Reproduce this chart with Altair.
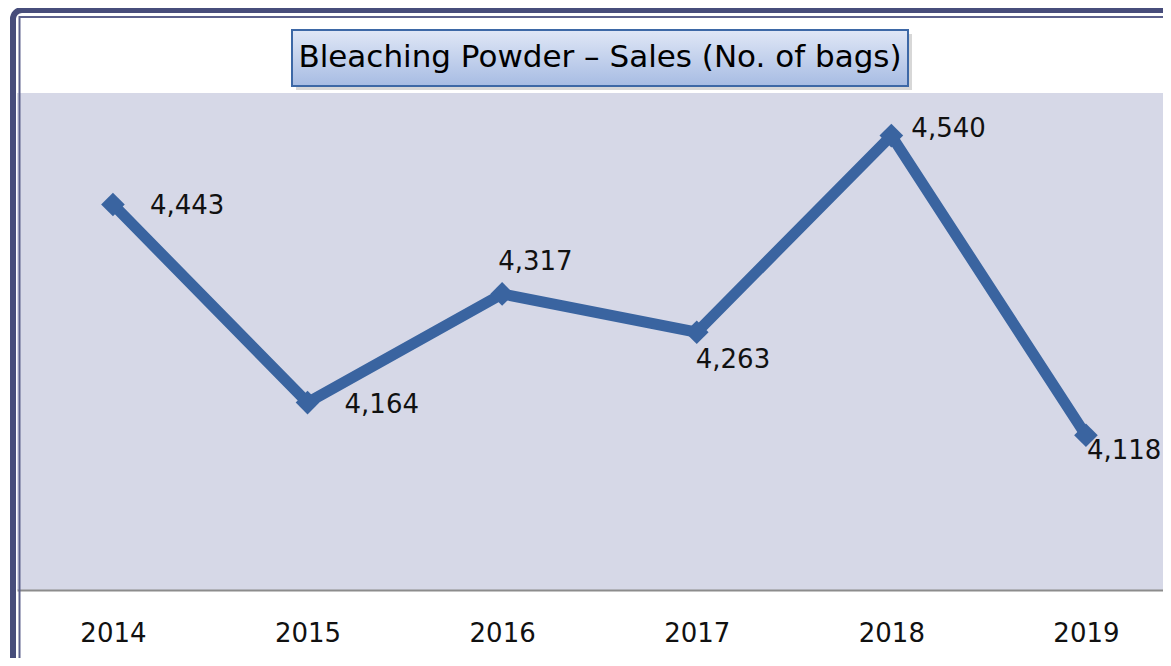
import altair as alt
import pandas as pd

# ---- data ----
years = [2014, 2015, 2016, 2017, 2018, 2019]
sales = [4443, 4164, 4317, 4263, 4540, 4118]
title_text = "Bleaching Powder \u2013 Sales (No. of bags)"

BLUE = "#3a64a0"
FONT = "DejaVu Sans"

df = pd.DataFrame({"year": years, "sales": sales})

x = alt.X(
    "year:Q",
    scale=alt.Scale(domain=[2013.507, 2019.396], nice=False, zero=False),
    axis=alt.Axis(
        values=years, format="d", title=None, ticks=False, grid=False,
        labelFontSize=26, labelFont=FONT, labelColor="#111111",
        labelPadding=30, labelBaseline="top", labelFlush=False, labelOverlap=False,
        domainColor="#8c8c8c", domainWidth=2,
    ),
)
y = alt.Y("sales:Q", scale=alt.Scale(domain=[3900, 4600], nice=False, zero=False), axis=None)

base = alt.Chart(df)

line = base.mark_line(color=BLUE, strokeWidth=11, strokeJoin="miter").encode(x=x, y=y)
pts = base.mark_point(shape="diamond", filled=True, size=560, color=BLUE, opacity=1).encode(x=x, y=y)


def labels(yrs, dx, dy):
    return (
        base.transform_filter(alt.FieldOneOfPredicate(field="year", oneOf=yrs))
        .mark_text(dx=dx, dy=dy, align="left", baseline="middle",
                   fontSize=26, font=FONT, color="#111111")
        .encode(x=x, y=y, text=alt.Text("sales:Q", format=","))
    )


lab_layers = [
    labels([2014, 2015], 37, 2),
    labels([2016], -4, -32),
    labels([2017], -1, 28),
    labels([2018], 20, -7),
    labels([2019], 1, 16),
]

# ---- decorations (frame + title box) ----
deco = alt.Chart(pd.DataFrame({"k": [0]}))
outer = deco.mark_rect(fillOpacity=0, stroke="#474d7b", strokeWidth=6, cornerRadius=9).encode(
    x=alt.value(-4), x2=alt.value(1220), y=alt.value(-83), y2=alt.value(600))
inner = deco.mark_rect(fillOpacity=0, stroke="#5c618c", strokeWidth=2).encode(
    x=alt.value(2.5), x2=alt.value(1220), y=alt.value(-76), y2=alt.value(600))
shadow = deco.mark_rect(fill="#7a7a7a", opacity=0.3).encode(
    x=alt.value(279), x2=alt.value(895), y=alt.value(-59), y2=alt.value(-3))
grad = alt.Gradient(
    gradient="linear",
    stops=[alt.GradientStop(color="#e0e7f6", offset=0), alt.GradientStop(color="#a7bce3", offset=1)],
    x1=0, x2=0, y1=0, y2=1,
)
box = deco.mark_rect(fill=grad, stroke="#3d68a6", strokeWidth=2).encode(
    x=alt.value(275), x2=alt.value(891), y=alt.value(-63), y2=alt.value(-7))
title = deco.mark_text(fontSize=31, font=FONT, color="#000000", align="center", baseline="middle").encode(
    x=alt.value(583), y=alt.value(-35), text=alt.value(title_text))

chart = (
    alt.layer(outer, inner, shadow, box, title, line, pts, *lab_layers)
    .properties(
        width=1146, height=497,
        autosize=alt.AutoSizeParams(type="none"),
        padding={"left": 9, "top": 85, "right": 0, "bottom": 68},
        background="white",
    )
    .configure_view(fill="#d6d8e7", strokeWidth=0)
)

chart.save("out.html", embed_options={"renderer": "svg", "actions": False})
